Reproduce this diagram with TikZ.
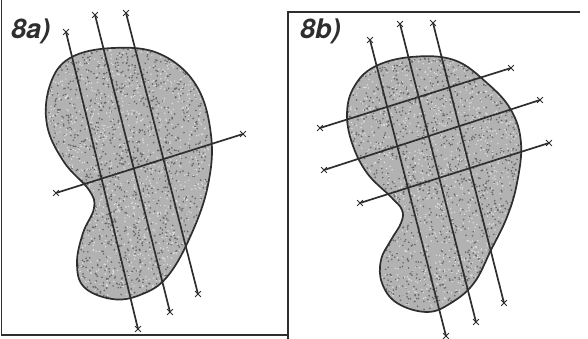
\documentclass[tikz,border=0pt]{standalone}
\usepackage{fontspec}
\setmainfont{TeX Gyre Heros}
\usetikzlibrary{shapes.misc}
\definecolor{ink}{HTML}{2E2E2E}
\tikzset{
  frame/.style={draw=ink, line width=1.8pt},
  blob/.style={draw=ink, line width=1.7pt},
  cut/.style={draw=ink, line width=1.7pt},
  xmark/.style={cross out, draw=ink, line width=0.8pt, minimum size=5pt, inner sep=0pt},
  lbl/.style={font=\fontsize{27}{27}\selectfont\bfseries\itshape, text=ink, anchor=north west, inner sep=0pt}
}
\begin{document}
\begin{tikzpicture}[x=1pt,y=-1pt]
\useasboundingbox (0,0) rectangle (588,339);
% frames
\draw[frame] (1.5,0) -- (1.5,335) -- (288,335);
\draw[frame] (288,339) -- (288,12) -- (580,12);
% labels
\node[lbl] (la) at (11,19) {8a)};
\node[lbl] (lb) at (300,19) {8b)};
% shapes
\def\shapeA{plot[smooth cycle, tension=0.65] coordinates {(113,48) (160,54) (196,85) (211,135) (208,185) (191,235) (167,277) (140,295) (112,299) (84,287) (77,263) (83,233) (94,208) (89,190) (64,162) (47,125) (50,85) (70,58)}}
\def\shapeB{plot[smooth cycle, tension=0.65] coordinates {(411,57) (454,60) (487,83) (511,110) (521,143) (517,183) (507,217) (491,250) (474,283) (451,303) (427,312) (397,303) (382,283) (381,260) (391,240) (401,223) (402,210) (391,197) (367,173) (352,143) (347,113) (354,87) (374,67)}}
\fill[black!30] \shapeA;
\fill[black!30] \shapeB;
\pgfmathsetseed{7}
\begin{scope}
\clip \shapeA;
\foreach \i in {1,...,1600}{
  \pgfmathsetmacro{\px}{45+170*rnd}\pgfmathsetmacro{\py}{45+258*rnd}
  \fill[black!60] (\px,\py) circle (0.9);
}
\foreach \i in {1,...,1400}{
  \pgfmathsetmacro{\px}{45+170*rnd}\pgfmathsetmacro{\py}{45+258*rnd}
  \fill[black!12] (\px,\py) circle (0.8);
}
\end{scope}
\begin{scope}
\clip \shapeB;
\foreach \i in {1,...,1600}{
  \pgfmathsetmacro{\px}{345+180*rnd}\pgfmathsetmacro{\py}{55+260*rnd}
  \fill[black!60] (\px,\py) circle (0.9);
}
\foreach \i in {1,...,1400}{
  \pgfmathsetmacro{\px}{345+180*rnd}\pgfmathsetmacro{\py}{55+260*rnd}
  \fill[black!12] (\px,\py) circle (0.8);
}
\end{scope}
\draw[blob] \shapeA;
\draw[blob] \shapeB;
% cutting lines a
\node[xmark] (a1s) at (66,32) {};  \node[xmark] (a1e) at (138,329) {};
\node[xmark] (a2s) at (95,15) {};  \node[xmark] (a2e) at (170,312) {};
\node[xmark] (a3s) at (126,13) {}; \node[xmark] (a3e) at (198,294) {};
\node[xmark] (a4s) at (56,193) {}; \node[xmark] (a4e) at (243,134) {};
\foreach \n in {1,...,4}{\draw[cut] (a\n s.center) -- (a\n e.center);}
% cutting lines b
\node[xmark] (b1s) at (370,40) {};  \node[xmark] (b1e) at (446,336) {};
\node[xmark] (b2s) at (400,24) {};  \node[xmark] (b2e) at (476,322) {};
\node[xmark] (b3s) at (433,23) {};  \node[xmark] (b3e) at (504,303) {};
\node[xmark] (b4s) at (320,128) {}; \node[xmark] (b4e) at (511,68) {};
\node[xmark] (b5s) at (324,170) {}; \node[xmark] (b5e) at (540,100) {};
\node[xmark] (b6s) at (360,203) {}; \node[xmark] (b6e) at (549,143) {};
\foreach \n in {1,...,6}{\draw[cut] (b\n s.center) -- (b\n e.center);}
\end{tikzpicture}
\end{document}
